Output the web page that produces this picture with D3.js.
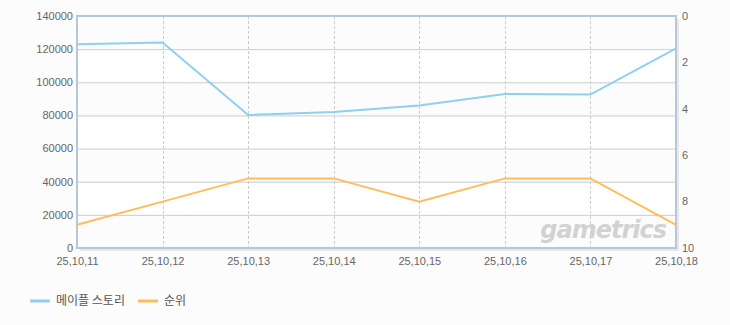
<!DOCTYPE html>
<html>
<head>
<meta charset="utf-8">
<script src="https://cdn.jsdelivr.net/npm/d3@7"></script>
<style>
  body { margin: 0; background: #fcfcfc; }
  svg { font-family: "Noto Sans CJK KR", "Liberation Sans", sans-serif; }
</style>
</head>
<body>
<svg id="chart" width="730" height="325"></svg>
<script>
var dates = ["25.10.11", "25.10.12", "25.10.13", "25.10.14", "25.10.15", "25.10.16", "25.10.17", "25.10.18"];
var players = [122900, 124000, 80300, 82000, 86000, 93000, 92600, 120500];
var ranks = [9, 8, 7, 7, 8, 7, 7, 9];
var leftTicks = [0, 20000, 40000, 60000, 80000, 100000, 120000, 140000];
var rightTicks = [0, 2, 4, 6, 8, 10];
var seriesNames = ["메이플 스토리", "순위"];
var colors = ["#8fd0f0", "#ffbd5a"];

var svg = d3.select("#chart"),
    margin = {top: 16, right: 54, bottom: 77, left: 77},
    width = 730 - margin.left - margin.right,
    height = 325 - margin.top - margin.bottom,
    g = svg.append("g").attr("transform", "translate(" + margin.left + "," + margin.top + ")");

var x = d3.scalePoint().domain(dates).range([0, width]);
var y = d3.scaleLinear().domain([0, 140000]).range([height, 0]);
var yr = d3.scaleLinear().domain([0, 10]).range([0, height]);

// shadow + plot background
g.append("rect").attr("x", 3).attr("y", 3).attr("width", width).attr("height", height).attr("fill", "#e8e8e8");
g.append("rect").attr("width", width).attr("height", height).attr("fill", "#ffffff");

// alternating bands
g.selectAll(".band")
  .data(leftTicks.slice(0, -1).filter(function(d, i) { return i % 2 == 0; }))
  .enter().append("rect")
    .attr("x", 0)
    .attr("y", function(d) { return y(d + 20000); })
    .attr("width", width)
    .attr("height", function(d) { return y(d) - y(d + 20000); })
    .attr("fill", "#fcfcfc");

// horizontal grid
g.selectAll(".hgrid")
  .data(leftTicks.slice(1, -1))
  .enter().append("line")
    .attr("x1", 0).attr("x2", width)
    .attr("y1", function(d) { return y(d) + 0.5; })
    .attr("y2", function(d) { return y(d) + 0.5; })
    .attr("stroke", "#cccccc");

// vertical dashed grid
g.selectAll(".vgrid")
  .data(dates.slice(1, -1))
  .enter().append("line")
    .attr("x1", function(d) { return Math.round(x(d)) + 0.5; })
    .attr("x2", function(d) { return Math.round(x(d)) + 0.5; })
    .attr("y1", 0).attr("y2", height)
    .attr("stroke", "#cccccc")
    .attr("stroke-dasharray", "3,2");

// watermark
g.append("text")
  .attr("x", width - 10)
  .attr("y", height - 10)
  .attr("text-anchor", "end")
  .attr("font-family", "DejaVu Sans, sans-serif")
  .attr("font-style", "italic")
  .attr("font-weight", "bold")
  .attr("font-size", 24)
  .attr("letter-spacing", "-1")
  .attr("fill", "#d2d2d2")
  .text("gametrics");

// frame
g.append("rect").attr("x", 0).attr("y", 0).attr("width", width).attr("height", height)
  .attr("fill", "none").attr("stroke", "#b6c7d9").attr("stroke-width", 2);

// lines
var line1 = d3.line().x(function(d, i) { return x(dates[i]); }).y(function(d) { return y(d); });
var line2 = d3.line().x(function(d, i) { return x(dates[i]); }).y(function(d) { return yr(d); });

g.append("path").datum(players).attr("d", line1)
  .attr("fill", "none").attr("stroke", colors[0]).attr("stroke-width", 2);
g.append("path").datum(ranks).attr("d", line2)
  .attr("fill", "none").attr("stroke", colors[1]).attr("stroke-width", 2);

// axes
var leftAxis = g.append("g")
    .call(d3.axisLeft(y).tickValues(leftTicks).tickFormat(d3.format("d")).tickSize(0).tickPadding(4));
var rightAxis = g.append("g")
    .attr("transform", "translate(" + width + ",0)")
    .call(d3.axisRight(yr).tickValues(rightTicks).tickFormat(d3.format("d")).tickSize(0).tickPadding(6));
var bottomAxis = g.append("g")
    .attr("transform", "translate(0," + height + ")")
    .call(d3.axisBottom(x).tickSize(0).tickPadding(9));

[leftAxis, rightAxis, bottomAxis].forEach(function(a) {
  a.select(".domain").remove();
  a.selectAll("text").attr("fill", "#666").attr("font-size", 11)
    .attr("font-family", "Liberation Sans, sans-serif");
});
bottomAxis.selectAll("text").text(function(d) { return d.replace(/\./g, ","); });
leftAxis.selectAll("text").attr("dy", "0.3em");
rightAxis.selectAll("text").attr("dy", "0.3em");

// legend
var legend = svg.append("g").attr("transform", "translate(30,301)");
var lx = [0, 108];
seriesNames.forEach(function(name, i) {
  legend.append("line")
    .attr("x1", lx[i]).attr("x2", lx[i] + 20)
    .attr("y1", 0).attr("y2", 0)
    .attr("stroke", colors[i]).attr("stroke-width", 3);
  legend.append("text")
    .attr("x", lx[i] + 26).attr("y", 4)
    .attr("font-size", 12).attr("fill", "#555")
    .text(name);
});
</script>
</body>
</html>
